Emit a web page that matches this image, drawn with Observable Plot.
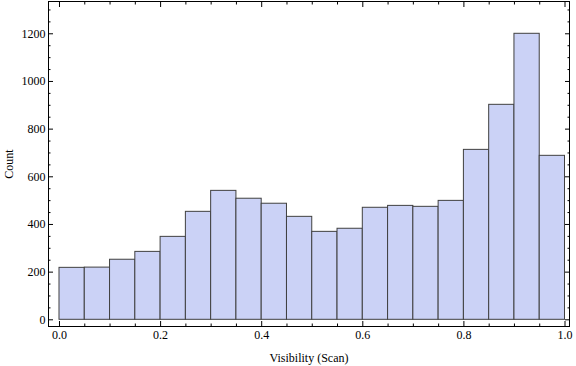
<!DOCTYPE html>
<html>
<head>
<meta charset="utf-8">
<script src="https://cdn.jsdelivr.net/npm/d3@7"></script>
<script src="https://cdn.jsdelivr.net/npm/@observablehq/plot@0.6"></script>
<style>
  html, body { margin: 0; padding: 0; background: #fff; }
  svg, svg text { font-family: "Liberation Serif", "LiberationSerif", "DejaVu Serif", serif !important; }
</style>
</head>
<body>
<div id="chart"></div>
<script>
// Bin edges (Visibility) and counts per bin
const binEdges = [0.00, 0.05, 0.10, 0.15, 0.20, 0.25, 0.30, 0.35, 0.40, 0.45, 0.50,
                  0.55, 0.60, 0.65, 0.70, 0.75, 0.80, 0.85, 0.90, 0.95, 1.00];
const counts = [218, 219, 252, 285, 348, 453, 541, 508, 487, 432,
                369, 382, 470, 478, 474, 499, 713, 902, 1200, 688];

// Tick values
const xMajorTicks = [0.0, 0.2, 0.4, 0.6, 0.8, 1.0];
const xMinorTicks = [0.05, 0.1, 0.15, 0.25, 0.3, 0.35, 0.45, 0.5, 0.55, 0.65, 0.7, 0.75, 0.85, 0.9, 0.95];
const yMajorTicks = [0, 200, 400, 600, 800, 1000, 1200];
const yMinorTicks = [50, 100, 150, 250, 300, 350, 450, 500, 550, 650, 700, 750, 850, 900, 950, 1050, 1100, 1150, 1250, 1300];

const bins = counts.map((c, i) => ({x1: binEdges[i], x2: binEdges[i + 1], count: c}));

const none = () => "";
const tickOpts = {label: null, tickFormat: none, stroke: "#000"};

const chart = Plot.plot({
  width: 576,
  height: 366,
  marginLeft: 48,
  marginRight: 7,
  marginTop: 1,
  marginBottom: 40,
  style: {fontSize: "12px", color: "#000", background: "#fff"},
  x: {domain: [-0.02176, 1.0089], label: null},
  y: {domain: [-28.1, 1335.5], label: null},
  marks: [
    Plot.rectY(bins, {x1: "x1", x2: "x2", y: "count", fill: "#cbd2f6", stroke: "#404040", strokeWidth: 1}),
    Plot.frame({stroke: "#000"}),
    // left axis labels
    Plot.axisY(yMajorTicks, {anchor: "left", tickSize: 0, tickPadding: 3, tickFormat: d => String(d),
      label: "Count", labelAnchor: "center", labelArrow: "none", labelOffset: 44}),
    // inward ticks left
    Plot.axisY(yMajorTicks, {anchor: "left", tickSize: 5, dx: 5, ...tickOpts}),
    Plot.axisY(yMinorTicks, {anchor: "left", tickSize: 2.5, dx: 2.5, ...tickOpts}),
    // inward ticks right
    Plot.axisY(yMajorTicks, {anchor: "right", tickSize: 5, dx: -5, ...tickOpts}),
    Plot.axisY(yMinorTicks, {anchor: "right", tickSize: 2.5, dx: -2.5, ...tickOpts}),
    // bottom axis labels
    Plot.axisX(xMajorTicks, {anchor: "bottom", tickSize: 0, tickPadding: 4, tickFormat: d3.format(".1f"),
      label: "Visibility (Scan)", labelAnchor: "center", labelArrow: "none", labelOffset: 35}),
    // inward ticks bottom
    Plot.axisX(xMajorTicks, {anchor: "bottom", tickSize: 5, dy: -5, ...tickOpts}),
    Plot.axisX(xMinorTicks, {anchor: "bottom", tickSize: 2.5, dy: -2.5, ...tickOpts}),
    // inward ticks top
    Plot.axisX(xMajorTicks, {anchor: "top", tickSize: 5, dy: 5, ...tickOpts}),
    Plot.axisX(xMinorTicks, {anchor: "top", tickSize: 2.5, dy: 2.5, ...tickOpts})
  ]
});
document.getElementById("chart").appendChild(chart);
</script>
</body>
</html>
